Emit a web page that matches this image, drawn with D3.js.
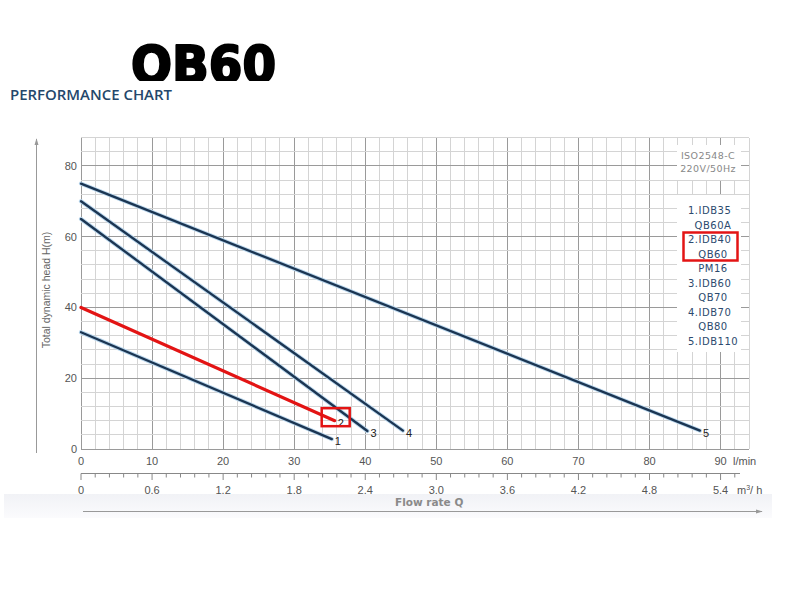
<!DOCTYPE html>
<html>
<head>
<meta charset="utf-8">
<script src="https://cdn.jsdelivr.net/npm/d3@7"></script>
<style>
  html, body { margin: 0; padding: 0; background: #fff; }
  svg { display: block; }
</style>
</head>
<body>
<svg id="chart" width="800" height="600"></svg>
<script>
// ---------------- DATA ----------------
const title = "QB60";
const subtitle = "PERFORMANCE CHART";
const curveIds = ["1", "2", "3", "4", "5"];
// each curve: [flow l/min, head m] start and end
const curve1 = [[0, 33], [35.3, 2.8]];
const curve2 = [[0, 40], [35.7, 8]];
const curve3 = [[0, 65], [40.3, 5.1]];
const curve4 = [[0, 70], [45.3, 5.2]];
const curve5 = [[0, 75], [87.1, 5.2]];
const curves = [curve1, curve2, curve3, curve4, curve5];
const highlighted = "2";
const flowTicks = [0, 10, 20, 30, 40, 50, 60, 70, 80, 90];
const m3hTicks = ["0", "0.6", "1.2", "1.8", "2.4", "3.0", "3.6", "4.2", "4.8", "5.4"];
const headTicks = [0, 20, 40, 60, 80];
const standardLines = ["ISO2548-C", "220V/50Hz"];
const legendLines = ["1.IDB35", "QB60A", "2.IDB40", "QB60", "PM16", "3.IDB60", "QB70", "4.IDB70", "QB80", "5.IDB110"];

// ---------------- LAYOUT ----------------
const svg = d3.select("#chart");
const x = d3.scaleLinear().domain([0, 94]).range([81, 749]);
const y = d3.scaleLinear().domain([0, 88]).range([449, 137.6]);
const xm3 = d3.scaleLinear().domain([0, 94 * 0.06]).range([81, 749]);

// defs
const defs = svg.append("defs");
const grad = defs.append("linearGradient").attr("id", "band").attr("x1", 0).attr("y1", 0).attr("x2", 0).attr("y2", 1);
grad.append("stop").attr("offset", "0%").attr("stop-color", "#f1f2f6");
grad.append("stop").attr("offset", "100%").attr("stop-color", "#fbfbfd");
const mk = defs.append("marker").attr("id", "arrow").attr("viewBox", "0 0 10 10")
  .attr("refX", 9).attr("refY", 5).attr("markerWidth", 7).attr("markerHeight", 7).attr("orient", "auto");
mk.append("path").attr("d", "M0,2 L10,5 L0,8 z").attr("fill", "#999");
defs.append("clipPath").attr("id", "titleclip").append("rect").attr("x", 0).attr("y", 0).attr("width", 800).attr("height", 81);

// bottom gray band
svg.append("rect").attr("x", 4).attr("y", 494).attr("width", 768).attr("height", 24).attr("fill", "url(#band)");

// title
svg.append("text").attr("x", 131).attr("y", 83).attr("clip-path", "url(#titleclip)")
  .attr("font-family", "DejaVu Sans").attr("font-weight", "bold").attr("font-size", 52)
  .attr("textLength", 145).attr("lengthAdjust", "spacingAndGlyphs")
  .attr("fill", "#000").attr("stroke", "#000").attr("stroke-width", 2.2).attr("stroke-linejoin", "round")
  .text(title);
svg.append("text").attr("x", 10).attr("y", 100)
  .attr("font-family", "Open Sans, Liberation Sans, sans-serif").attr("font-weight", 600).attr("font-size", 13.5)
  .attr("textLength", 162).attr("lengthAdjust", "spacingAndGlyphs")
  .attr("fill", "#24476b").text(subtitle);

// grid
const g = svg.append("g");
const xGrid = d3.range(0, 95, 2);
const yGrid = d3.range(0, 89, 4);
g.selectAll("line.vx").data(xGrid).enter().append("line")
  .attr("x1", d => x(d)).attr("x2", d => x(d)).attr("y1", y(0)).attr("y2", y(88))
  .attr("stroke", d => d % 10 === 0 ? "#9a9a9a" : "#d4d4d4").attr("stroke-width", 1)
  .attr("shape-rendering", "crispEdges");
g.selectAll("line.hy").data(yGrid).enter().append("line")
  .attr("x1", x(0)).attr("x2", x(94)).attr("y1", d => y(d)).attr("y2", d => y(d))
  .attr("stroke", d => d % 20 === 0 ? "#9a9a9a" : "#d4d4d4").attr("stroke-width", 1)
  .attr("shape-rendering", "crispEdges");

// white boxes for legend
svg.append("rect").attr("x", 677).attr("y", 145).attr("width", 64).attr("height", 35).attr("fill", "#fff");
svg.append("rect").attr("x", 677).attr("y", 195).attr("width", 64).attr("height", 157).attr("fill", "#fff");

// axis labels (head)
svg.append("g").selectAll("text").data(headTicks).enter().append("text")
  .attr("x", 77).attr("y", d => y(d) + 4).attr("text-anchor", "end")
  .attr("font-family", "Liberation Sans, Arial, sans-serif").attr("font-size", 11).attr("fill", "#555")
  .text(d => d);
// flow l/min labels
svg.append("g").selectAll("text").data(flowTicks).enter().append("text")
  .attr("x", d => x(d)).attr("y", 465).attr("text-anchor", "middle")
  .attr("font-family", "Liberation Sans, Arial, sans-serif").attr("font-size", 11).attr("fill", "#555")
  .text(d => d);
svg.append("text").attr("x", 733).attr("y", 465)
  .attr("font-family", "Liberation Sans, Arial, sans-serif").attr("font-size", 11).attr("fill", "#555").text("l/min");

// m3/h axis
const m3Minor = d3.range(0, 47).map(i => i * 0.12);
svg.append("line").attr("x1", xm3(0)).attr("x2", 740).attr("y1", 473.5).attr("y2", 473.5)
  .attr("stroke", "#888").attr("stroke-width", 1);
svg.append("g").selectAll("line").data(m3Minor).enter().append("line")
  .attr("x1", d => xm3(d)).attr("x2", d => xm3(d))
  .attr("y1", 473.5).attr("y2", (d, i) => i % 5 === 0 ? 480 : 477.5)
  .attr("stroke", "#888").attr("stroke-width", 1);
svg.append("g").selectAll("text").data(m3hTicks).enter().append("text")
  .attr("x", d => xm3(+d)).attr("y", 494).attr("text-anchor", "middle")
  .attr("font-family", "Liberation Sans, Arial, sans-serif").attr("font-size", 11).attr("fill", "#555")
  .text(d => d);
svg.append("text").attr("x", 737).attr("y", 494)
  .attr("font-family", "Liberation Sans, Arial, sans-serif").attr("font-size", 11).attr("fill", "#555")
  .html("m<tspan dy='-4' font-size='7'>3</tspan><tspan dy='4'>/ h</tspan>");
svg.append("text").attr("x", 395).attr("y", 506)
  .attr("font-family", "DejaVu Sans, sans-serif").attr("font-weight", "bold").attr("font-size", 10.5)
  .attr("fill", "#8a8a8a").text("Flow rate Q");
// bottom arrow
svg.append("line").attr("x1", 83).attr("x2", 762).attr("y1", 511.5).attr("y2", 511.5)
  .attr("stroke", "#999").attr("stroke-width", 1).attr("marker-end", "url(#arrow)");
// left arrow
svg.append("line").attr("x1", 36.5).attr("x2", 36.5).attr("y1", 453).attr("y2", 139)
  .attr("stroke", "#999").attr("stroke-width", 1).attr("marker-end", "url(#arrow)");
svg.append("text").attr("transform", "translate(50,290) rotate(-90)").attr("text-anchor", "middle")
  .attr("font-family", "Liberation Sans, Arial, sans-serif").attr("font-size", 10.5).attr("fill", "#666")
  .text("Total dynamic head H(m)");

// standard text
svg.append("g").selectAll("text").data(standardLines).enter().append("text")
  .attr("x", 708).attr("y", (d, i) => 159 + i * 12.5).attr("text-anchor", "middle")
  .attr("font-family", "DejaVu Sans, sans-serif").attr("font-size", 9.5).attr("letter-spacing", 0.4)
  .attr("fill", "#888").text(d => d);

// legend
svg.append("g").selectAll("text").data(legendLines).enter().append("text")
  .attr("x", d => /^\d/.test(d) ? 688 : 713)
  .attr("text-anchor", d => /^\d/.test(d) ? "start" : "middle")
  .attr("y", (d, i) => 214 + i * 14.5)
  .attr("font-family", "DejaVu Sans, sans-serif").attr("font-size", 10).attr("letter-spacing", 0.5)
  .attr("fill", "#2c4a6e").text(d => d);

// curves
const line = d3.line().x(d => x(d[0])).y(d => y(d[1]));
const cg = svg.append("g");
curves.forEach((c, i) => {
  const id = curveIds[i];
  if (id === highlighted) {
    cg.append("path").attr("d", line(c)).attr("fill", "none")
      .attr("stroke", "#e31414").attr("stroke-width", 3.2).attr("stroke-linecap", "round");
  } else {
    cg.append("path").attr("d", line(c)).attr("fill", "none")
      .attr("stroke", "#b9d6ec").attr("stroke-width", 4.2).attr("stroke-linecap", "round");
    cg.append("path").attr("d", line(c)).attr("fill", "none")
      .attr("stroke", "#1b3552").attr("stroke-width", 2.3).attr("stroke-linecap", "round");
  }
  const end = c[c.length - 1];
  cg.append("text").attr("x", x(end[0]) + 3).attr("y", y(end[1]) + 6)
    .attr("font-family", "Liberation Sans, Arial, sans-serif").attr("font-size", 11).attr("fill", "#222")
    .text(id);
});

// red highlight boxes
const endHi = curves[curveIds.indexOf(highlighted)][1];
svg.append("rect").attr("x", x(endHi[0]) - 13).attr("y", y(endHi[1]) - 12.5).attr("width", 28).attr("height", 18)
  .attr("fill", "none").attr("stroke", "#e31414").attr("stroke-width", 2.5);
svg.append("rect").attr("x", 683.5).attr("y", 232.5).attr("width", 54).attr("height", 28)
  .attr("fill", "none").attr("stroke", "#e31414").attr("stroke-width", 2.5);
</script>
</body>
</html>
